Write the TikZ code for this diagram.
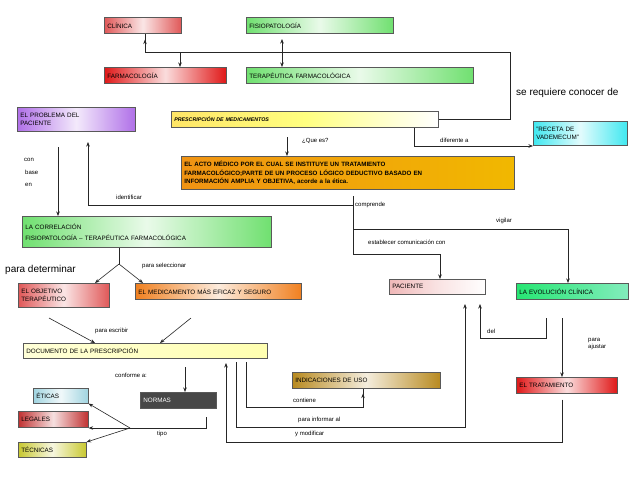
\documentclass[tikz,border=0pt]{standalone}
\usepackage{fontspec}
\setmainfont{Liberation Sans}
\usetikzlibrary{arrows.meta,calc}
\tikzset{
 box/.style={draw=black!65,line width=0.6pt,anchor=north west,inner sep=3pt,align=left,font=\fontsize{6.3}{7.6}\selectfont},
 grad/.style={left color=#1,right color=#1,middle color=#1!15},
 lbl/.style={font=\fontsize{6}{7}\selectfont,inner sep=0pt,anchor=west},
 big/.style={font=\fontsize{10}{12}\selectfont,inner sep=0pt,anchor=west},
 ln/.style={line width=0.6pt,black!85},
 ar/.style={ln,-{Stealth[length=4.5pt,width=3.5pt]}},
}
\definecolor{cred}{HTML}{E05858}
\definecolor{cgreen}{HTML}{70E070}
\definecolor{cdred}{HTML}{E01818}
\definecolor{cpurp}{HTML}{B070E8}
\definecolor{cyel}{HTML}{FFFF80}
\definecolor{ccyan}{HTML}{40E8F0}
\definecolor{cgold}{HTML}{F0B000}
\definecolor{corg}{HTML}{F08020}
\definecolor{cpink}{HTML}{F0B8B8}
\definecolor{cteal}{HTML}{30E090}
\definecolor{clyel}{HTML}{FFFFB0}
\definecolor{cbrown}{HTML}{B88A20}
\definecolor{cblue}{HTML}{A0D4E0}
\definecolor{cleg}{HTML}{C03030}
\definecolor{colive}{HTML}{C8C830}
\newcommand{\bx}[7]{\node[box,#6,minimum width=#4pt,minimum height=#5pt,text width=#4pt-6pt] (#1) at (#2,#3) {#7};}
\begin{document}
\begin{tikzpicture}[x=1pt,y=-1pt]
\useasboundingbox[fill=white] (0,0) rectangle (638,479);
\bx{clin}{104}{17}{77}{16}{grad=cred}{CLÍNICA}
\bx{fisio}{246}{17}{147}{16}{grad=cgreen}{FISIOPATOLOGÍA}
\bx{farm}{104}{67}{122}{16}{grad=cdred}{FARMACOLOGÍA}
\bx{tera}{246}{67}{227}{16}{grad=cgreen}{TERAPÉUTICA FARMACOLÓGICA}
\bx{prob}{17}{107}{118}{24}{grad=cpurp}{EL PROBLEMA DEL\\PACIENTE}
\bx{pres}{171}{111}{267}{16}{left color=cyel!80!orange,right color=white,middle color=cyel,font=\fontsize{5.3}{6}\selectfont\bfseries\itshape}{PRESCRIPCIÓN DE MEDICAMENTOS}
\bx{rec}{533}{121}{94}{24}{grad=ccyan}{"RECETA DE\\VADEMECUM"}
\bx{acto}{181}{156}{333}{33}{left color=corg!60!cgold,right color=cgold!90!yellow,font=\fontsize{6.2}{8.8}\selectfont\bfseries}{EL ACTO MÉDICO POR EL CUAL SE INSTITUYE UN TRATAMIENTO\\FARMACOLÓGICO;PARTE DE UN PROCESO LÓGICO DEDUCTIVO BASADO EN\\INFORMACIÓN AMPLIA Y OBJETIVA, acorde a la ética.}
\bx{corr}{22}{216}{249}{31}{grad=cgreen,font=\fontsize{6.3}{11}\selectfont}{LA CORRELACIÓN\\FISIOPATOLOGÍA – TERAPÉUTICA FARMACOLÓGICA}
\bx{obj}{18}{283}{91}{24}{grad=cred}{EL OBJETIVO\\TERAPÉUTICO}
\bx{med}{135}{283}{166}{16}{grad=corg}{EL MEDICAMENTO MÁS EFICAZ Y SEGURO}
\bx{pac}{389}{279}{96}{15}{left color=cpink,right color=white,middle color=cpink!40}{PACIENTE}
\bx{evo}{516}{283}{112}{16}{left color=cteal!80!green,right color=cteal!60}{LA EVOLUCIÓN CLÍNICA}
\bx{doc}{23}{343}{244}{15}{left color=clyel!50,right color=clyel}{DOCUMENTO DE LA PRESCRIPCIÓN}
\bx{ind}{292}{372}{148}{16}{grad=cbrown}{INDICACIONES DE USO}
\bx{nor}{140}{392}{76}{16}{fill=black!72,text=white}{NORMAS}
\bx{trat}{516}{377}{101}{16}{grad=cdred}{EL TRATAMIENTO}
\bx{eti}{33}{388}{55}{15}{grad=cblue}{ÉTICAS}
\bx{leg}{18}{411}{70}{16}{grad=cleg}{LEGALES}
\bx{tec}{18}{442}{68}{15}{grad=colive}{TÉCNICAS}
% top connectors
\coordinate (tr) at (510,52);
\draw[ar] (pres.east) -| (tr) -- (145,52) -- (clin.south -| 145,0) ++(0,6);
\draw[ar] (180,52) -- (farm.north -| 180,0);
\draw[ar,{Stealth[length=4.5pt,width=3.5pt]}-{Stealth[length=4.5pt,width=3.5pt]}] (282,39) -- (tera.north -| 282,0);
\node[big] (sr) at (516,93) {se requiere conocer de};
\draw[ar] (287,137) -- (acto.north -| 287,0);
\node[lbl] (qe) at (302,141) {¿Que es?};
\draw[ar] (pres.south -| 414,0) |- (rec.west |- 0,146);
\node[lbl] (dif) at (440,140) {diferente a};
% left side
\draw[ar] (58,147) -- (corr.north -| 58,0);
\node[lbl] (con) at (24,160) {con};
\node[lbl] (base) at (25,172) {base};
\node[lbl] (en) at (25,185) {en};
\coordinate (cp) at (353,196);
\draw[ar] (cp) -- (353,205) -- (88,205) -- (88,142);
\node[lbl] (idf) at (116,197) {identificar};
\node[lbl] (comp) at (355,205) {comprende};
\draw[ar] (353,205) -- (353,254) -| (pac.north -| 440,0);
\node[lbl] (est) at (368,242) {establecer comunicación con};
\draw[ar] (353,229) -| (evo.north -| 568,0);
\node[lbl] (vig) at (496,221) {vigilar};
% correlation branches
\coordinate (cb) at (119,264);
\draw[ln] (corr.south -| 119,0) -- (cb);
\draw[ar] (cb) -- (95,283);
\draw[ar] (cb) -- (143,283);
\node[lbl] (psel) at (142,266) {para seleccionar};
\node[big] (pdet) at (5,270) {para determinar};
\draw[ar] (49,318) -- (95,343);
\draw[ar] (191,318) -- (160,343);
\node[lbl] (pesc) at (95,331) {para escribir};
% normas
\draw[ar] (185,367) -- (nor.north -| 185,0);
\node[lbl] (conf) at (115,375) {conforme a:};
\coordinate (fan) at (130,428);
\draw[ln] (206,417) |- (fan);
\draw[ar] (fan) -- (leg.east |- fan);
\draw[ar] (fan) -- (eti.south east);
\draw[ar] (fan) -- (tec.north east);
\node[lbl] (tipo) at (157,434) {tipo};
% document connectors
\draw[ar] (246,362) |- (363,407) -- (ind.south -| 363,0) ++(0,5);
\node[lbl] (cont) at (293,400) {contiene};
\draw[ar] (236,362) |- (465,427) -- (465,304);
\node[lbl] (pinf) at (298,420) {para informar al};
\draw[ar] (trat.south -| 562,0) ++(0,6) |- (226,442) -- (226,363);
\node[lbl] (ymod) at (295,434) {y modificar};
\draw[ar] (546,318) |- (480,338) -- (480,304);
\node[lbl] (del) at (487,331) {del};
\draw[ar] (562,318) -- (trat.north -| 562,0);
\node[lbl,align=left] (paj) at (588,344) {para\\ajustar};
\end{tikzpicture}
\end{document}
